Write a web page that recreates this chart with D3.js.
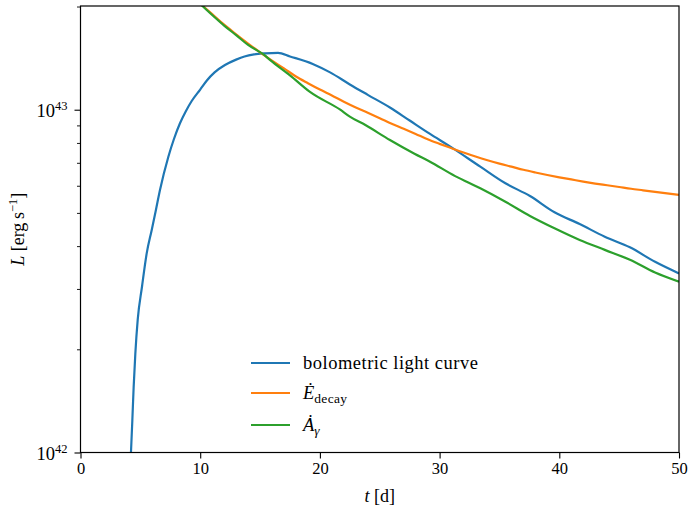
<!DOCTYPE html>
<html>
<head>
<meta charset="utf-8">
<script src="https://cdn.jsdelivr.net/npm/d3@7"></script>
<style>
  html, body { margin: 0; padding: 0; background: #fff; }
  svg text { font-family: "Liberation Serif", "Times New Roman", serif; fill: #000; }
</style>
</head>
<body>
<svg id="chart" width="689" height="510"></svg>
<script>
// ---- data (luminosity in units of 1e42 erg/s, time in days) ----
const blueT = [4.2, 4.33, 4.44, 4.58, 4.78, 5.14, 5.53, 5.95, 6.3, 6.64, 7.34, 7.8, 8.31, 8.8, 9.29, 10.0, 10.54, 11.2, 12.07, 13.0, 13.7, 14.5, 15.4, 16.5, 17.5, 19.4, 20.85, 22.5, 24.0, 25.85, 27.5, 29.2, 30.9, 33.4, 35.5, 37.55, 39.6, 41.7, 43.8, 45.9, 48.0, 50.0];
const blueL = [0.97, 1.24, 1.55, 1.94, 2.44, 3.05, 3.81, 4.46, 5.1, 5.83, 7.29, 8.2, 9.13, 9.9, 10.6, 11.45, 12.15, 12.85, 13.5, 14.0, 14.3, 14.5, 14.6, 14.65, 14.3, 13.6, 12.85, 11.85, 11.05, 10.15, 9.3, 8.5, 7.8, 6.82, 6.10, 5.60, 5.02, 4.64, 4.26, 3.97, 3.60, 3.33];

const orangeT = [9, 10, 11, 12, 13, 14, 15, 16, 17, 18, 19, 20, 21, 22, 23, 24, 25, 26, 27, 28, 29, 30, 31, 32, 33, 34, 35, 36, 37, 38, 39, 40, 41, 42, 43, 44, 45, 46, 47, 48, 49, 50];
const orangeL = [21.9, 20.4, 19.0, 17.7, 16.6, 15.6, 14.7, 13.9, 13.2, 12.5, 11.95, 11.45, 11.0, 10.55, 10.15, 9.8, 9.45, 9.1, 8.8, 8.5, 8.2, 7.95, 7.72, 7.5, 7.3, 7.12, 6.96, 6.82, 6.68, 6.56, 6.45, 6.35, 6.26, 6.17, 6.09, 6.02, 5.95, 5.88, 5.82, 5.76, 5.70, 5.64];

const greenT = [9, 10, 11, 12, 13, 14, 15.4, 15.8, 17.5, 19.2, 21.7, 22.5, 23.8, 25.85, 27.9, 29.2, 31.3, 33.4, 35.5, 37.55, 39.6, 41.7, 43.8, 45.9, 48.0, 50.0];
const greenL = [21.9, 20.35, 18.9, 17.6, 16.5, 15.45, 14.4, 14.0, 12.6, 11.25, 10.0, 9.55, 9.02, 8.16, 7.44, 7.05, 6.40, 5.90, 5.39, 4.90, 4.51, 4.17, 3.90, 3.65, 3.35, 3.15];

const seriesNames = ["bolometric light curve", "E_decay", "A_gamma"];
const seriesColors = ["#1f77b4", "#ff7f0e", "#2ca02c"];
const xTicks = [0, 10, 20, 30, 40, 50];
const yMajor = [1e42, 1e43];
const yMinor = [2e42, 3e42, 4e42, 5e42, 6e42, 7e42, 8e42, 9e42, 2e43];
const UNIT = 1e42;

// ---- layout ----
const svg = d3.select("#chart");
const L = 80.5, R = 679, T = 6, B = 452.5;
const x = d3.scaleLinear().domain([0, 50]).range([L, R]);
const y = d3.scaleLog().domain([1e42, 2.007e43]).range([B, T]);

svg.append("defs").append("clipPath").attr("id", "clip")
  .append("rect").attr("x", L).attr("y", T).attr("width", R - L).attr("height", B - T);

const toPts = (ts, ls) => ts.map((t, i) => [t, ls[i] * UNIT]);
const line = d3.line().x(d => x(d[0])).y(d => y(d[1])).curve(d3.curveMonotoneX);

const g = svg.append("g").attr("clip-path", "url(#clip)");
[[blueT, blueL], [orangeT, orangeL], [greenT, greenL]].forEach(([ts, ls], i) => {
  g.append("path").datum(toPts(ts, ls)).attr("d", line)
    .attr("fill", "none").attr("stroke", seriesColors[i]).attr("stroke-width", 2.2)
    .attr("stroke-linejoin", "round");
});

// ---- axes ----
const xAxis = d3.axisBottom(x).tickValues(xTicks).tickSize(6).tickPadding(4).tickFormat(d3.format("d"));
const gx = svg.append("g").attr("transform", `translate(0,${B})`).call(xAxis);
gx.attr("font-family", null);
gx.select(".domain").remove();
gx.selectAll(".tick line").attr("stroke", "#000").attr("stroke-width", 1.1);
gx.selectAll(".tick text").style("font-size", "16.5px").attr("dy", "0.75em").attr("y", 9);

const yAxisMinor = d3.axisLeft(y).tickValues(yMinor).tickSize(3.5).tickFormat("");
const gym = svg.append("g").attr("transform", `translate(${L},0)`).call(yAxisMinor);
gym.select(".domain").remove();
gym.selectAll(".tick line").attr("stroke", "#000").attr("stroke-width", 0.9);

const yAxisMajor = d3.axisLeft(y).tickValues(yMajor).tickSize(6).tickFormat("");
const gy = svg.append("g").attr("transform", `translate(${L},0)`).call(yAxisMajor);
gy.attr("font-family", null);
gy.select(".domain").remove();
gy.selectAll(".tick line").attr("stroke", "#000").attr("stroke-width", 1.1);
gy.selectAll(".tick").each(function(d) {
  const t = d3.select(this).append("text")
    .attr("x", -13).attr("y", 6.5).attr("text-anchor", "end")
    .style("font-size", "18.5px");
  t.append("tspan").text("10");
  t.append("tspan").attr("dy", -7).style("font-size", "12.5px").text(String(Math.round(Math.log10(d))));
});

// frame
svg.append("rect").attr("x", L).attr("y", T).attr("width", R - L).attr("height", B - T)
  .attr("fill", "none").attr("stroke", "#000").attr("stroke-width", 1.2);

// ---- axis labels ----
const xl = svg.append("text").attr("x", (L + R) / 2).attr("y", 502).attr("text-anchor", "middle").style("font-size", "18px");
xl.append("tspan").style("font-style", "italic").text("t");
xl.append("tspan").text(" [d]");

const yl = svg.append("text").attr("transform", `translate(24,${(T + B) / 2}) rotate(-90)`)
  .attr("text-anchor", "middle").style("font-size", "18px");
yl.append("tspan").style("font-style", "italic").text("L");
yl.append("tspan").text(" [erg\u2009s");
yl.append("tspan").attr("dy", -7).style("font-size", "12.5px").text("\u22121");
yl.append("tspan").attr("dy", 7).text("]");

// ---- legend ----
const legendRows = [363, 393, 425];
const lg = svg.append("g");
seriesNames.forEach((name, i) => {
  const yy = legendRows[i];
  lg.append("line").attr("x1", 251).attr("x2", 290).attr("y1", yy).attr("y2", yy)
    .attr("stroke", seriesColors[i]).attr("stroke-width", 2.2);
  const t = lg.append("text").attr("x", 303).attr("y", yy + 6).style("font-size", "18.5px");
  if (i === 0) {
    t.style("letter-spacing", "0.5px").text(name);
  } else if (i === 1) {
    t.append("tspan").style("font-style", "italic").text("\u0116");
    t.append("tspan").attr("dy", 4).style("font-size", "13.5px").style("letter-spacing", "0.3px").text("decay");
  } else {
    t.append("tspan").style("font-style", "italic").text("\u0226");
    t.append("tspan").attr("dy", 4).style("font-size", "13.5px").style("font-style", "italic").text("\u03b3");
  }
});
</script>
</body>
</html>
